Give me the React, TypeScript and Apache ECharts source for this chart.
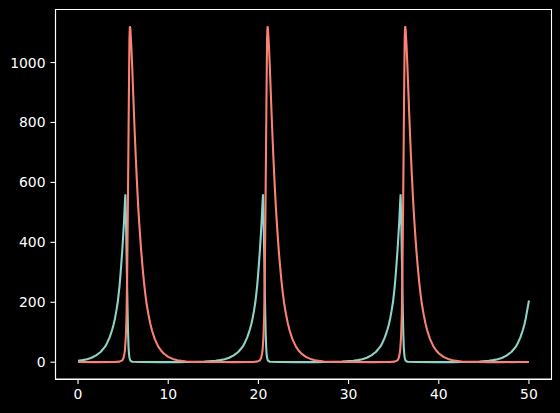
import React, { useEffect, useRef } from "react";
import * as echarts from "echarts";

// Prey (teal) readings: time and population, one cycle per line
const preyTimes: number[] = [
  0, 0.5, 1, 1.5, 2, 2.5, 3, 3.25, 3.5, 3.65, 3.8, 3.95, 4.1, 4.25, 4.4, 4.5, 4.6, 4.7, 4.8, 4.9, 5.0, 5.1, 5.2, 5.25, 5.3, 5.35, 5.4, 5.45, 5.5, 5.55, 5.6, 5.65, 5.7, 5.8, 6.0, 7, 9, 11, 12, 13, 14,
  15.26, 15.76, 16.26, 16.76, 17.26, 17.76, 18.26, 18.51, 18.76, 18.91, 19.06, 19.21, 19.36, 19.51, 19.66, 19.76, 19.86, 19.96, 20.06, 20.16, 20.26, 20.36, 20.46, 20.51, 20.56, 20.61, 20.66, 20.71, 20.76, 20.81, 20.86, 20.91, 20.96, 21.06, 21.26, 22.26, 24.26, 26.26, 27.26, 28.26, 29.26,
  30.52, 31.02, 31.52, 32.02, 32.52, 33.02, 33.52, 33.77, 34.02, 34.17, 34.32, 34.47, 34.62, 34.77, 34.92, 35.02, 35.12, 35.22, 35.32, 35.42, 35.52, 35.62, 35.72, 35.77, 35.82, 35.87, 35.92, 35.97, 36.02, 36.07, 36.12, 36.17, 36.22, 36.32, 36.52, 37.52, 39.52, 41.52, 42.52, 43.52, 44.52,
  45.55, 46.05, 46.55, 47.05, 47.55, 48.05, 48.55, 48.8, 49.05, 49.2, 49.35, 49.5, 49.65, 49.8, 49.9, 50,
];
const preyValues: number[] = [
  5, 7, 10, 15, 23, 34, 52, 66, 83, 96, 110, 127, 147, 172, 200, 226, 255, 290, 330, 372, 420, 470, 535, 560, 500, 420, 330, 240, 160, 95, 50, 28, 15, 5, 1.5, 0.5, 0.3, 0.4, 0.8, 1.5, 2.5,
  5, 7, 10, 15, 23, 34, 52, 66, 83, 96, 110, 127, 147, 172, 200, 226, 255, 290, 330, 372, 420, 470, 535, 560, 500, 420, 330, 240, 160, 95, 50, 28, 15, 5, 1.5, 0.5, 0.3, 0.4, 0.8, 1.5, 2.5,
  5, 7, 10, 15, 23, 34, 52, 66, 83, 96, 110, 127, 147, 172, 200, 226, 255, 290, 330, 372, 420, 470, 535, 560, 500, 420, 330, 240, 160, 95, 50, 28, 15, 5, 1.5, 0.5, 0.3, 0.4, 0.8, 1.5, 2.5,
  5, 7, 10, 15, 23, 34, 52, 66, 83, 96, 110, 127, 147, 172, 189, 206,
];

// Predator (salmon) readings: time and population, one cycle per line
const predTimes: number[] = [
  0, 2, 4, 4.6, 4.9, 5.05, 5.15, 5.2, 5.3, 5.38, 5.45, 5.52, 5.58, 5.64, 5.7, 5.75, 5.8, 5.9, 6.0, 6.1, 6.2, 6.3, 6.4, 6.5, 6.6, 6.7, 6.85, 7.0, 7.15, 7.3, 7.45, 7.6, 7.8, 8.0, 8.2, 8.5, 8.9, 9.2, 9.5, 10, 10.5, 11, 12, 13, 14,
  15.26, 17.26, 19.26, 19.86, 20.16, 20.31, 20.41, 20.46, 20.56, 20.64, 20.71, 20.78, 20.84, 20.9, 20.96, 21.01, 21.06, 21.16, 21.26, 21.36, 21.46, 21.56, 21.66, 21.76, 21.86, 21.96, 22.11, 22.26, 22.41, 22.56, 22.71, 22.86, 23.06, 23.26, 23.46, 23.76, 24.16, 24.46, 24.76, 25.26, 25.76, 26.26, 27.26, 28.26, 29.26,
  30.52, 32.52, 34.52, 35.12, 35.42, 35.57, 35.67, 35.72, 35.82, 35.9, 35.97, 36.04, 36.1, 36.16, 36.22, 36.27, 36.32, 36.42, 36.52, 36.62, 36.72, 36.82, 36.92, 37.02, 37.12, 37.22, 37.37, 37.52, 37.67, 37.82, 37.97, 38.12, 38.32, 38.52, 38.72, 39.02, 39.42, 39.72, 40.02, 40.52, 41.02, 41.52, 42.52, 43.52, 44.52,
  45.52, 47, 49, 50,
];
const predValues: number[] = [
  0.5, 0.4, 0.8, 2, 6, 15, 30, 40, 85, 160, 300, 500, 700, 900, 1080, 1121, 1112, 1060, 990, 910, 830, 755, 685, 620, 560, 505, 435, 372, 318, 270, 230, 195, 160, 130, 106, 78, 52, 39, 29, 18, 11, 6.5, 2.5, 1.2, 0.6,
  0.5, 0.4, 0.8, 2, 6, 15, 30, 40, 85, 160, 300, 500, 700, 900, 1080, 1121, 1112, 1060, 990, 910, 830, 755, 685, 620, 560, 505, 435, 372, 318, 270, 230, 195, 160, 130, 106, 78, 52, 39, 29, 18, 11, 6.5, 2.5, 1.2, 0.6,
  0.5, 0.4, 0.8, 2, 6, 15, 30, 40, 85, 160, 300, 500, 700, 900, 1080, 1121, 1112, 1060, 990, 910, 830, 755, 685, 620, 560, 505, 435, 372, 318, 270, 230, 195, 160, 130, 106, 78, 52, 39, 29, 18, 11, 6.5, 2.5, 1.2, 0.6,
  0.4, 0.4, 0.5, 0.8,
];

const xTicks: number[] = [0, 10, 20, 30, 40, 50];
const yTicks: number[] = [0, 200, 400, 600, 800, 1000];

const X_MIN = -2.5;
const X_MAX = 52.5;
const Y_MIN = -56;
const Y_MAX = 1177;

const PREY_COLOR = "#8dd3c7";
const PRED_COLOR = "#fa8174";
const TICK_LEN = 5;

export default function App() {
  const ref = useRef<HTMLDivElement>(null);

  useEffect(() => {
    document.body.style.margin = "0";
    document.body.style.background = "#000";
    if (!ref.current) return;
    const chart = echarts.init(ref.current, undefined, { renderer: "svg" });
    const prey = preyTimes.map((t, i) => [t, preyValues[i]]);
    const pred = predTimes.map((t, i) => [t, predValues[i]]);
    const labelStyle = {
      color: "#ffffff",
      fontFamily: "DejaVu Sans",
      fontSize: 13.9,
    };
    const spine = { color: "#ffffff", width: 1.1 };
    chart.setOption({
      animation: false,
      backgroundColor: "#000000",
      grid: {
        left: 55.5,
        right: 8.5,
        top: 9.5,
        bottom: 34,
        show: true,
        borderColor: "#ffffff",
        borderWidth: 1.1,
        backgroundColor: "transparent",
      },
      xAxis: {
        type: "value",
        min: X_MIN,
        max: X_MAX,
        axisLine: { show: true, onZero: false, lineStyle: spine },
        splitLine: { show: false },
        axisTick: { show: false },
        axisLabel: {
          ...labelStyle,
          margin: 8,
          customValues: xTicks,
          formatter: (v: number) => String(v),
        },
      },
      yAxis: {
        type: "value",
        min: Y_MIN,
        max: Y_MAX,
        axisLine: { show: true, onZero: false, lineStyle: spine },
        splitLine: { show: false },
        axisTick: { show: false },
        axisLabel: {
          ...labelStyle,
          margin: 10,
          customValues: yTicks,
          formatter: (v: number) => String(v),
        },
      },
      series: [
        {
          type: "line",
          data: prey,
          showSymbol: false,
          symbol: "none",
          lineStyle: { color: PREY_COLOR, width: 2.08 },
          itemStyle: { color: PREY_COLOR },
          clip: false,
        },
        {
          type: "line",
          data: pred,
          showSymbol: false,
          symbol: "none",
          lineStyle: { color: PRED_COLOR, width: 2.08 },
          itemStyle: { color: PRED_COLOR },
          clip: false,
        },
      ],
    });

    // Tick marks placed through the chart's own scales
    const tickStyle = { stroke: "#ffffff", lineWidth: 1.1 };
    const tickGraphics: any[] = [];
    xTicks.forEach((v) => {
      const p = chart.convertToPixel({ gridIndex: 0 }, [v, Y_MIN]) as number[];
      tickGraphics.push({
        type: "line",
        silent: true,
        z: 10,
        shape: { x1: p[0], y1: p[1], x2: p[0], y2: p[1] + TICK_LEN },
        style: tickStyle,
      });
    });
    yTicks.forEach((v) => {
      const p = chart.convertToPixel({ gridIndex: 0 }, [X_MIN, v]) as number[];
      tickGraphics.push({
        type: "line",
        silent: true,
        z: 10,
        shape: { x1: p[0] - TICK_LEN, y1: p[1], x2: p[0], y2: p[1] },
        style: tickStyle,
      });
    });
    chart.setOption({ graphic: tickGraphics });

    return () => chart.dispose();
  }, []);

  return (
    <div
      ref={ref}
      style={{ position: "fixed", left: 0, top: 0, width: 560, height: 413 }}
    />
  );
}
